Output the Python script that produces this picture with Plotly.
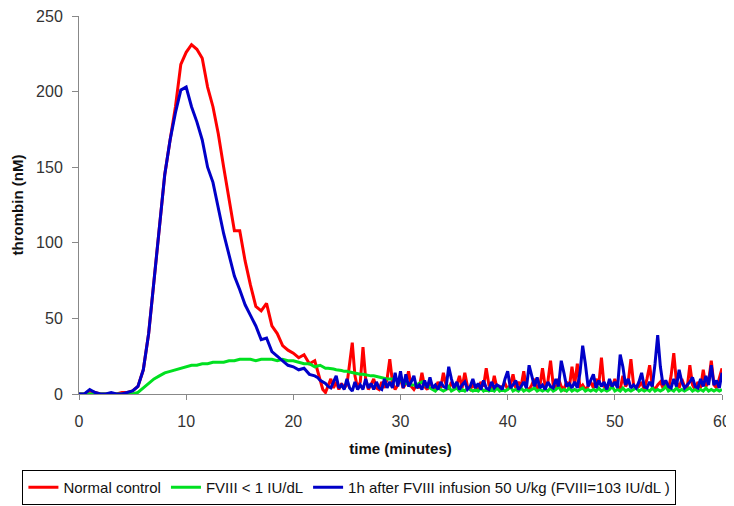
import plotly.graph_objects as go

# time in minutes: every half minute up to 22, then every quarter minute to 60
time_min = [i * 0.5 for i in range(45)] + [22 + i * 0.25 for i in range(1, 153)]

normal_control = [
    # 0 - 22 (half minutes)
    0, 0, 2, 1, 0, 0, 0, 0, 1, 1,
    2, 5, 16, 40, 75, 112, 145, 168, 190, 218,
    226, 231, 228, 222, 203, 190, 172, 150, 128, 108,
    108, 88, 72, 58, 55, 60, 45, 40, 32, 29,
    27, 24, 26, 20, 22,
    # 22.25 - 60 (quarter minutes)
    15, 8, 3, 1, 6, 10, 4, 8, 3, 7, 4, 6,
    20, 34, 12, 4, 8, 31, 10, 3, 6, 10, 4, 3,
    8, 4, 10, 23, 8, 3, 6, 10, 4, 7, 15, 5,
    3, 6, 4, 14, 5, 3, 9, 4, 3, 8, 4, 14,
    6, 3, 8, 4, 6, 12, 4, 14, 5, 3, 6, 4,
    3, 8, 5, 17, 6, 3, 12, 4, 3, 5, 7, 3,
    6, 13, 4, 8, 5, 15, 4, 3, 6, 10, 4, 5,
    17, 5, 8, 22, 6, 4, 10, 5, 3, 8, 4, 18,
    6, 20, 4, 6, 3, 5, 8, 4, 10, 6, 24, 5,
    3, 8, 4, 10, 5, 3, 12, 5, 8, 23, 6, 4,
    5, 8, 3, 10, 19, 5, 3, 6, 8, 4, 6, 3,
    12, 27, 8, 4, 10, 5, 4, 19, 6, 3, 8, 4,
    16, 5, 8, 22, 6, 4, 10, 17,
]

fviii_low = [
    # 0 - 22
    0, 0, 0, 0, 0, 0, 0, 0, 0, 0,
    0, 1, 4, 7, 10, 12, 14, 15, 16, 17,
    18, 19, 19, 20, 20, 21, 21, 21, 22, 22,
    23, 23, 23, 22, 23, 23, 23, 22, 23, 22,
    22, 21, 20, 20, 18,
    # 22.25 - 60
    18.5, 19, 18, 17, 17, 17, 16.5, 16, 16, 15.5, 15, 15,
    14.5, 14, 14, 13, 13, 13, 12.5, 12, 12, 12, 11.5, 11,
    11, 10.5, 10, 10, 10, 9.5, 9, 8, 8, 7, 7, 6,
    6, 6, 7, 8, 6, 5, 4, 3, 2, 4, 3, 2,
    3, 5, 2, 3, 4, 2, 3, 2, 4, 3, 2, 3,
    2, 4, 2, 3, 2, 3, 2, 4, 2, 3, 2, 3,
    5, 2, 3, 2, 4, 2, 3, 2, 3, 4, 2, 3,
    2, 3, 2, 4, 2, 3, 5, 2, 3, 2, 4, 2,
    3, 2, 3, 4, 2, 3, 2, 3, 2, 4, 2, 3,
    2, 3, 5, 2, 3, 2, 4, 2, 3, 2, 3, 4,
    2, 3, 2, 3, 2, 4, 2, 3, 2, 3, 5, 2,
    3, 2, 4, 2, 3, 2, 3, 4, 2, 3, 2, 3,
    2, 4, 2, 3, 2, 3, 2, 3,
]

after_infusion = [
    # 0 - 22
    0, 0, 3, 1, 0, 0, 1, 0, 0, 1,
    2, 5, 16, 40, 75, 112, 145, 168, 186, 201,
    203, 190, 180, 168, 150, 140, 122, 106, 92, 78,
    69, 59, 52, 45, 36, 37, 28, 25, 22, 19,
    18, 16, 17, 13, 12,
    # 22.25 - 60
    11, 9, 8, 7, 5, 4, 8, 12, 4, 6, 3, 10,
    4, 2, 8, 3, 6, 3, 10, 4, 7, 3, 8, 4,
    3, 10, 4, 8, 4, 14, 5, 15, 4, 13, 5, 8,
    12, 4, 6, 3, 9, 4, 11, 4, 6, 3, 8, 5,
    4, 18, 10, 4, 8, 3, 6, 8, 3, 5, 10, 4,
    7, 3, 9, 4, 3, 8, 4, 6, 5, 3, 10, 15,
    4, 6, 9, 3, 5, 8, 4, 19, 12, 5, 11, 4,
    6, 3, 8, 5, 4, 10, 5, 22, 14, 5, 7, 4,
    8, 4, 14, 32, 20, 5, 9, 13, 4, 9, 5, 8,
    3, 10, 5, 8, 4, 26, 18, 6, 10, 4, 6, 4,
    8, 14, 5, 4, 8, 5, 20, 39, 18, 6, 9, 5,
    4, 10, 5, 16, 8, 4, 6, 8, 11, 5, 4, 10,
    5, 12, 6, 19, 6, 9, 4, 14,
]

names = ['Normal control', 'FVIII < 1 IU/dL',
         '1h after FVIII infusion 50 U/kg (FVIII=103 IU/dL )']
colors = ['#ff0000', '#00e020', '#0000c8']
series = [normal_control, fviii_low, after_infusion]

fig = go.Figure()
for name, col, ys in zip(names, colors, series):
    fig.add_trace(go.Scatter(x=time_min, y=ys, mode='lines', name=name,
                             line=dict(color=col, width=3)))

font_family = 'Arial, Liberation Sans, sans-serif'

# the page body adds an 8px offset, so the figure is sized to the visible area
fig.update_layout(
    width=726, height=498,
    paper_bgcolor='white', plot_bgcolor='white',
    margin=dict(l=71, r=12, t=8, b=112, autoexpand=False),
    font=dict(family=font_family, size=16, color='#333'),
    legend=dict(orientation='h', x=-0.088, xanchor='left', y=-0.201, yanchor='top',
                bordercolor='black', borderwidth=1, bgcolor='white',
                font=dict(family=font_family, size=15, color='#111'),
                itemwidth=30, tracegroupgap=0),
    showlegend=True,
)
fig.update_xaxes(range=[0, 60], tickvals=[0, 10, 20, 30, 40, 50, 60],
                 showline=True, linecolor='#888', linewidth=1,
                 ticks='outside', ticklen=5, tickcolor='#888',
                 ticklabelstandoff=8, automargin=False, ticklabeloverflow='allow',
                 showgrid=False, zeroline=False,
                 title=dict(text='<b>time (minutes)</b>', standoff=14,
                            font=dict(size=15, color='#111')))
fig.update_yaxes(range=[0, 250], tickvals=[0, 50, 100, 150, 200, 250],
                 showline=True, linecolor='#888', linewidth=1,
                 ticks='outside', ticklen=6, tickcolor='#888',
                 ticklabelstandoff=6, automargin=False, ticklabeloverflow='allow',
                 showgrid=False, zeroline=False,
                 title=dict(text='<b>thrombin (nM)</b>', standoff=8,
                            font=dict(size=15, color='#111')))

fig.write_html("out.html")
